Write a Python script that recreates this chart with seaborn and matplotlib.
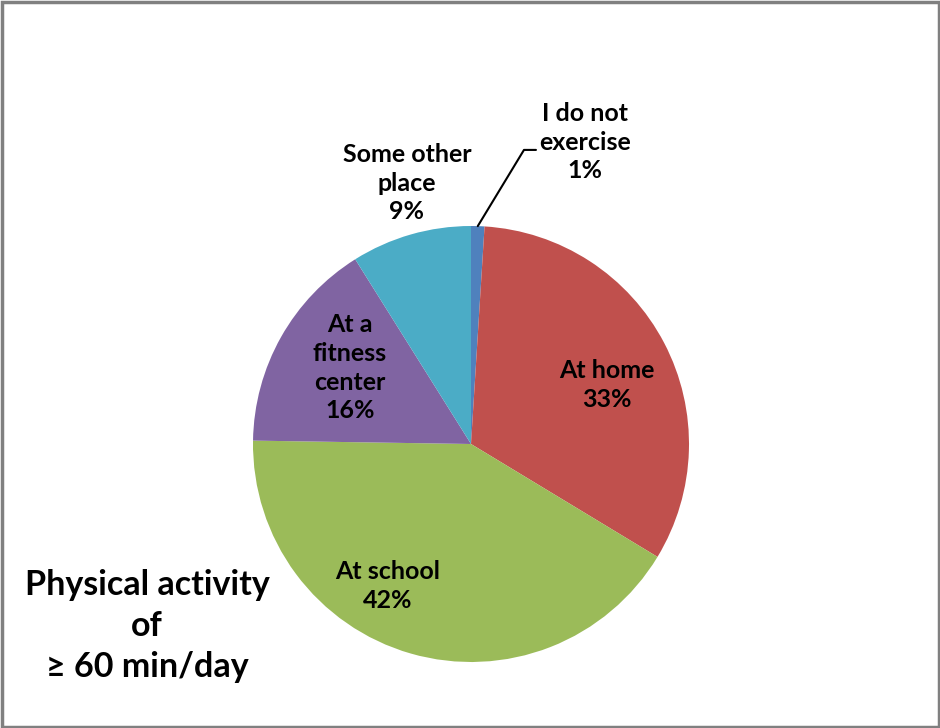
import matplotlib
matplotlib.use("Agg")
import numpy as np
import matplotlib.pyplot as plt
import seaborn as sns

# data (clockwise from 12 o'clock)
places = ["I do not\nexercise", "At home", "At school", "At a\nfitness\ncenter", "Some other\nplace"]
shares = [1, 33, 42, 16, 9]
colors = ["#4F81BD", "#C0504D", "#9BBB59", "#8064A2", "#4BACC6"]
title = "Physical activity\nof\n\u2265 60 min/day"

# where each label sits (pie radius = 1)
label_pos = [(0.523, 1.385), (0.624, 0.270), (-0.381, -0.650), (-0.555, 0.349), (-0.294, 1.197)]

sns.set_theme(style="white")
plt.rcParams["font.family"] = ["Lato", "DejaVu Sans"]
plt.rcParams["text.color"] = "black"

fig = plt.figure(figsize=(9.4, 7.28), dpi=100)
W, H = 940, 728
cx, cy, r = 471, 444, 218
ax = fig.add_axes([(cx - r) / W, (H - cy - r) / H, 2 * r / W, 2 * r / H])

wedges, _ = ax.pie(shares, colors=colors, startangle=90, counterclock=False,
                   radius=1, wedgeprops=dict(linewidth=0))
ax.set_xlim(-1, 1)
ax.set_ylim(-1, 1)
ax.set_aspect("equal")
ax.axis("off")

for name, val, (x, y) in zip(places, shares, label_pos):
    ax.text(x, y, f"{name}\n{val}%", ha="center", va="center", fontsize=18,
            fontweight="bold", color="black", linespacing=1.3, clip_on=False)

# leader line for the tiny slice
w = wedges[0]
mid = np.deg2rad((w.theta1 + w.theta2) / 2)
ex, ey = np.cos(mid), np.sin(mid)
ax.plot([ex, 0.243, 0.298], [ey, 1.349, 1.349], color="black", lw=1.5, clip_on=False)

fig.text(147 / W, 1 - 626 / H, title, ha="center", va="center", fontsize=24.5,
         fontweight="bold", color="black", linespacing=1.35)

# chart border
fig.patches.append(plt.Rectangle((1.5 / W, 1.5 / H), (W - 3) / W, (H - 3) / H,
                                 transform=fig.transFigure, fill=False,
                                 edgecolor="#808080", lw=2.5))

fig.savefig("out.png", dpi=100, facecolor="white")
